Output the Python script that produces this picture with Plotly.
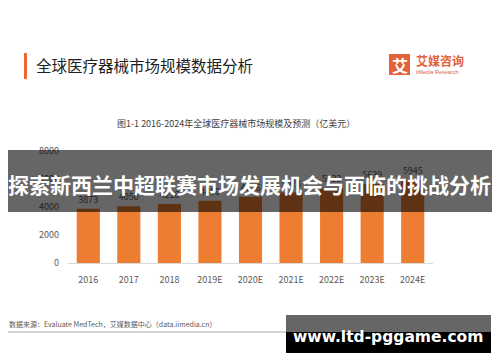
import plotly.graph_objects as go

categories = ["2016", "2017", "2018", "2019E", "2020E", "2021E", "2022E", "2023E", "2024E"]
values = [3873, 4050, 4218, 4450, 4736, 5028, 5322, 5639, 5945]
y_ticks = [0, 2000, 4000, 6000, 8000]

OFF = 8  # page body margin
W, H = 500 - OFF, 362 - OFF
L, R, T, B = 68, 433, 151, 263  # plot area in page pixels

def px(x):
    return (x - L) / (R - L)

def py(y):
    return (B - y) / (B - T)

CJK = "Noto Sans CJK SC"
ORANGE = "#ED7D31"
LOGO = "#E2623A"

fig = go.Figure()
fig.add_trace(go.Bar(
    x=categories, y=values, marker_color=ORANGE, marker_line_width=0,
    text=[str(v) for v in values], textposition="outside",
    textfont=dict(size=9, color="#595959", family=CJK),
    cliponaxis=False,
))

shapes = []
ann = []

def text(t, x, y, size, color, family=CJK, anchor="left"):
    ann.append(dict(text=t, x=px(x), y=py(y), xref="paper", yref="paper",
                    xanchor=anchor, yanchor="middle", showarrow=False,
                    font=dict(size=size, color=color, family=family)))

def rect(x0, y0, x1, y1, color):
    shapes.append(dict(type="rect", xref="paper", yref="paper", x0=px(x0), x1=px(x1),
                       y0=py(y1), y1=py(y0), fillcolor=color, line_width=0, layer="above"))

# title accent bar + title
rect(24, 53, 27, 79, "#F0662F")
text("全球医疗器械市场规模数据分析", 34, 65, 15.5, "#1f1f1f")
# logo
rect(389, 54, 410, 75, LOGO)
text("<b>艾</b>", 399.5, 64.5, 16, "white", anchor="center")
text("<b>艾媒咨询</b>", 414, 60, 12, LOGO)
text("iiMedia Research", 414, 71.5, 5.5, LOGO, family="Liberation Sans")
# chart subtitle
text("图1-1 2016-2024年全球医疗器械市场规模及预测（亿美元）", 236, 123, 9, "#404040", anchor="center")
# source line
text("数据来源：Evaluate MedTech，艾媒数据中心（data.iimedia.cn）", 7, 324, 7, "#595959")
shapes.append(dict(type="line", xref="paper", yref="paper", x0=px(6), x1=px(290), y0=py(332), y1=py(332),
                   line=dict(color="#a6a6a6", width=1), layer="above"))
# overlay banner
rect(8, 150, 492, 212, "rgba(0,0,0,0.6)")
text("<b>探索新西兰中超联赛市场发展机会与面临的挑战分析</b>", 249, 184, 21, "white", anchor="center")
# bottom-right watermark box
rect(286, 315, 491, 353, "black")
rect(286, 315, 491, 332, "#666666")
text("<b>www.ltd-pggame.com</b>", 388, 337, 15.5, "white", family="DejaVu Sans", anchor="center")

fig.update_layout(
    width=W, height=H,
    margin=dict(l=L - OFF, r=500 - R, t=T - OFF, b=362 - B, pad=0),
    paper_bgcolor="white", plot_bgcolor="white",
    bargap=0.43, showlegend=False,
    shapes=shapes, annotations=ann,
    font=dict(family=CJK, color="#595959", size=9),
)
fig.update_xaxes(showline=True, linecolor="#d9d9d9", linewidth=1, ticks="", showgrid=False,
                 tickfont=dict(size=9, color="#595959"), ticklabelstandoff=8)
fig.update_yaxes(range=[0, 8000], tickvals=y_ticks, showgrid=False, zeroline=False, showline=False,
                 tickfont=dict(size=9, color="#595959"), ticklabelstandoff=8)

fig.write_html("out.html")
